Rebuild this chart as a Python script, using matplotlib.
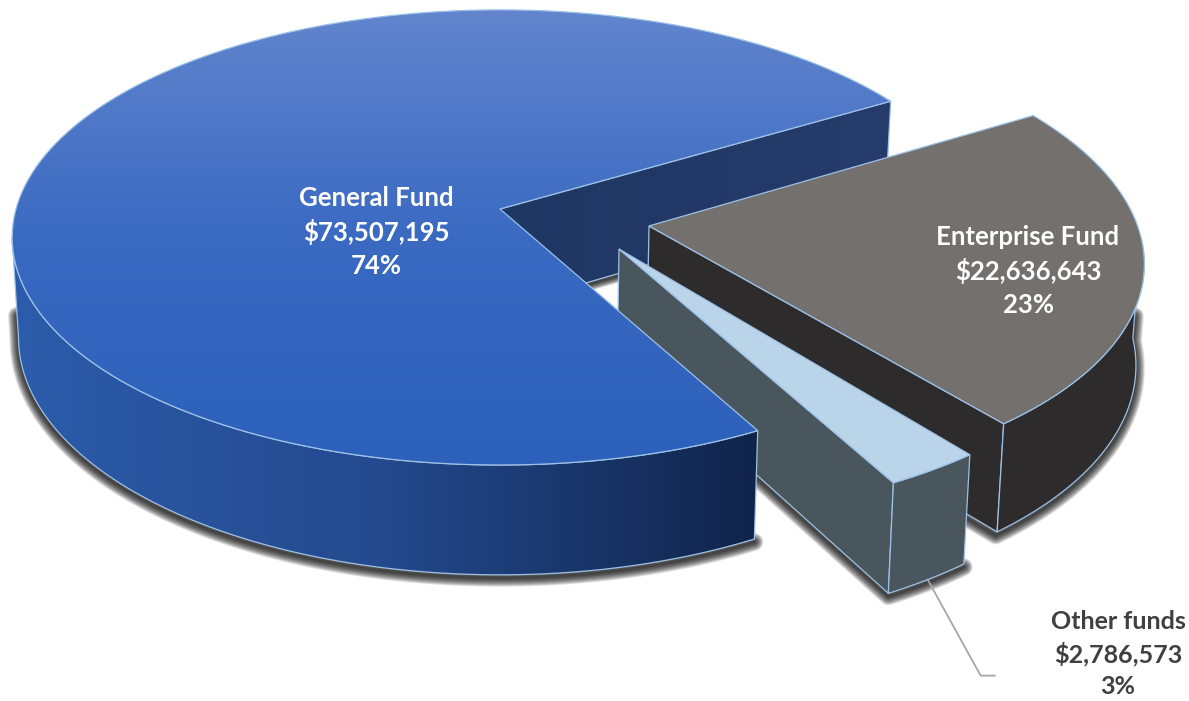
import numpy as np
from matplotlib import pyplot as plt
from matplotlib.patches import Polygon

# fund names and amounts
funds = ["General Fund", "Enterprise Fund", "Other funds"]
amounts = [73507195, 22636643, 2786573]

# drawing order goes back to front, this list is the order around the pie
around = [1, 2, 0]

# disc projection: pixel centre, radii and perspective strength
CX, CY = 500, 209
RX, RY = 484, 224
PERSP = 0.125
DEPTH = 99
FOOT_SCALE = 0.987

START_ANGLE = -31.3
TWIST = {0: 0.5, 1: 0.3, 2: 1.1}
EXPLODE = {0: (0.0, 0.0), 1: (0.305, 0.075), 2: (0.2405, 0.1747)}

EDGE = "#9cc1e6"
TOP_STOPS = ["#6285cd", "#3a6ac2", "#2c60ba"]
WALL_STOPS = ["#2c5cab", "#24498d", "#10244a"]
INNER_STOPS = ["#1f3763", "#263c6c"]
TOP_COLORS = {1: "#73706e", 2: "#bad4ea"}
WALL_COLORS = {1: "#2e2b2c", 2: "#4a565e"}


def project(u, v, foot=False):
    """ disc coordinates -> pixels, foot=True gives the lower rim """
    u, v = np.asarray(u, float), np.asarray(v, float)
    w = 1 / (1 - PERSP * v)
    if foot:
        return np.column_stack([CX + RX * u * w * FOOT_SCALE,
                                CY + RY * v * w * FOOT_SCALE + DEPTH * w])
    return np.column_stack([CX + RX * u * w, CY + RY * v * w])


def rim(idx, a0, a1, foot=False):
    t = np.radians(np.linspace(a0, a1, 160))
    du, dv = EXPLODE[idx]
    return project(du + np.cos(t), dv + np.sin(t), foot)


def apex(idx, foot=False):
    du, dv = EXPLODE[idx]
    return project([du], [dv], foot)


def gradient_fill(ax, pts, stops, vertical):
    """ polygon filled with a linear gradient, the image is clipped by the polygon """
    x0, y0 = pts.min(axis=0)
    x1, y1 = pts.max(axis=0)
    rgb = np.array([plt.matplotlib.colors.to_rgb(c) for c in stops])
    s = np.linspace(0, 1, 256)
    ramp = np.column_stack([np.interp(s, np.linspace(0, 1, len(stops)), rgb[:, i]) for i in range(3)])
    img = ramp[:, None, :] if vertical else ramp[None, :, :]
    im = ax.imshow(img, extent=(x0, x1, y1, y0), aspect="auto", interpolation="bilinear", zorder=ax.order)
    im.set_clip_path(Polygon(pts, closed=True, transform=ax.transData))
    ax.order += 1
    ax.add_patch(Polygon(pts, closed=True, fill=False, edgecolor=EDGE, linewidth=0.9, zorder=ax.order))
    ax.order += 1


def flat_fill(ax, pts, color):
    ax.add_patch(Polygon(pts, closed=True, facecolor=color, edgecolor=EDGE, linewidth=0.9, zorder=ax.order))
    ax.order += 1


def soft_shadow(ax, pts, reach=9, shift=3):
    # stacked strokes fade out like a blurred shadow
    for lw in np.linspace(reach * 2, 2, 14):
        ax.plot(pts[:, 0], pts[:, 1] + shift, color="black", alpha=0.085, linewidth=lw * 0.72,
                solid_capstyle="round", solid_joinstyle="round", zorder=ax.order)
    ax.order += 1


def main():
    fig = plt.figure(figsize=(11.89, 7.01), dpi=100)
    ax = fig.add_axes([0, 0, 1, 1])
    ax.order = 1
    plt.rcParams["font.family"] = ["Lato", "DejaVu Sans"]

    # slice angles come from the amounts
    sweep = np.array(amounts) / sum(amounts) * 360
    limits = {}
    a = START_ANGLE
    for i in around:
        limits[i] = (a + TWIST[i], a + sweep[i] + TWIST[i])
        a += sweep[i]

    # wall of the big slice that is visible in the notch
    g0, g1 = limits[0]
    back_edge = np.vstack([apex(0, True), rim(0, g1, g1, True)[:1]])
    soft_shadow(ax, back_edge, reach=7, shift=2)
    inner = np.vstack([apex(0), rim(0, g1, g1)[:1], rim(0, g1, g1, True)[:1], apex(0, True)])
    gradient_fill(ax, inner, INNER_STOPS, False)

    # enterprise slice
    e0, e1 = limits[1]
    side = 3
    foot = rim(1, e1 + 0.2, side, True)
    soft_shadow(ax, np.vstack([apex(1, True) * 0.15 + foot[0] * 0.85, foot, foot[-1] * 0.75 + rim(1, side, side)[0] * 0.25]))
    wall = np.vstack([apex(1), rim(1, e1, e1)[:1], rim(1, e1, e1, True)[:1], apex(1, True)])
    flat_fill(ax, wall, WALL_COLORS[1])
    flat_fill(ax, np.vstack([rim(1, side, e1), rim(1, e1, side, True)]), WALL_COLORS[1])
    flat_fill(ax, np.vstack([apex(1), rim(1, e0, e1)]), TOP_COLORS[1])

    # small slice
    o0, o1 = limits[2]
    foot = rim(2, o0, o1, True)
    soft_shadow(ax, np.vstack([foot, apex(2, True)]))
    wall = np.vstack([apex(2), rim(2, o1, o1)[:1], rim(2, o1, o1, True)[:1], apex(2, True)])
    flat_fill(ax, wall, WALL_COLORS[2])
    flat_fill(ax, np.vstack([rim(2, o0, o1), rim(2, o1, o0, True)]), WALL_COLORS[2])
    flat_fill(ax, np.vstack([apex(2), rim(2, o0, o1)]), TOP_COLORS[2])

    # big slice goes last, its top hides the walls behind it
    tangent = 172.8
    foot = rim(0, g0, tangent, True)
    soft_shadow(ax, np.vstack([foot, foot[-1] * 0.75 + rim(0, tangent, tangent)[0] * 0.25]))
    front = np.vstack([rim(0, g0, tangent), rim(0, tangent, g0, True)])
    gradient_fill(ax, front, WALL_STOPS, False)
    gradient_fill(ax, np.vstack([apex(0), rim(0, g0, g1)]), TOP_STOPS, True)

    # leader line for the small slice
    start = rim(2, (o0 + o1) / 2, (o0 + o1) / 2, True)[0]
    ax.plot([start[0], start[0] + 53, start[0] + 67], [start[1], start[1] + 96, start[1] + 96],
            color="#a6a6a6", linewidth=1.3, zorder=ax.order)

    # labels
    label_pos = {0: (376, 232, "white", 18.5), 1: (1028, 271, "white", 18.5), 2: (1118, 654, "#404040", 18)}
    for i, name in enumerate(funds):
        x, y, color, size = label_pos[i]
        share = amounts[i] / sum(amounts) * 100
        ax.text(x, y, f"{name}\n${amounts[i]:,}\n{share:.0f}%", ha="center", va="center", color=color,
                fontsize=size, fontweight="bold", linespacing=1.43, zorder=ax.order + 1)

    ax.set_xlim(0, 1189)
    ax.set_ylim(701, 0)
    ax.axis("off")
    fig.savefig("out.png", dpi=100, facecolor="white")


if __name__ == "__main__":
    main()
